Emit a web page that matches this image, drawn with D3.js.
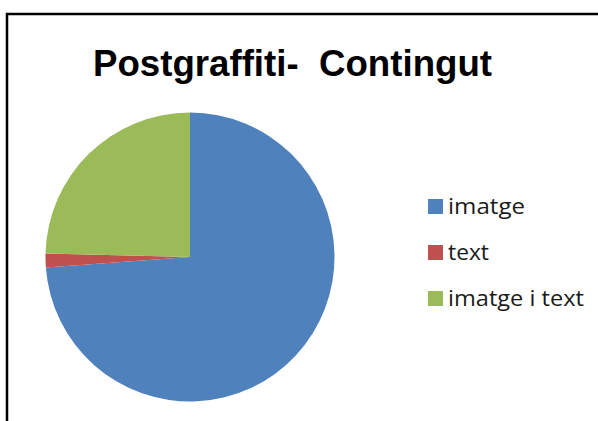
<!DOCTYPE html>
<html><head><meta charset="utf-8">
<script src="https://cdn.jsdelivr.net/npm/d3@7"></script>
<style>html,body{margin:0;padding:0;background:#fff;}svg{display:block;}text{white-space:pre;}</style>
</head><body>
<script>
const categories = ["imatge", "text", "imatge i text"];
const values = [48, 1, 16];
const colors = ["#4F81BD", "#C0504D", "#9BBB59"];
const title = "Postgraffiti-  Contingut";

const W = 598, H = 421;
const svg = d3.select("body").append("svg").attr("width", W).attr("height", H);

// frame
svg.append("path")
  .attr("d", d3.line()([[7, H + 5], [7, 14], [W + 5, 14]]))
  .attr("fill", "none").attr("stroke", "#000").attr("stroke-width", 2.5);

// title
svg.append("text")
  .attr("x", 93).attr("y", 76)
  .attr("font-family", "Liberation Sans, Arial, sans-serif")
  .attr("font-weight", "bold")
  .attr("font-size", 36)
  .attr("textLength", 399)
  .attr("lengthAdjust", "spacingAndGlyphs")
  .attr("fill", "#000")
  .text(title);

// pie
const cx = 190, cy = 257, r = 144.5;
const pie = d3.pie().sort(null).value(d => d)(values);
const arc = d3.arc().innerRadius(0).outerRadius(r);
svg.append("g").attr("transform", `translate(${cx},${cy})`)
  .selectAll("path").data(pie).join("path")
  .attr("d", arc)
  .attr("fill", (d, i) => colors[i]);

// legend
const ly = d3.scalePoint().domain(categories).range([214, 306]);
const lg = svg.append("g");
const widths = {"imatge": 77, "text": 41, "imatge i text": 136};
categories.forEach((c, i) => {
  lg.append("rect").attr("x", 428).attr("y", ly(c) - 15).attr("width", 15).attr("height", 15).attr("fill", colors[i]);
  lg.append("text").attr("x", 448).attr("y", ly(c))
    .attr("font-family", "Open Sans, sans-serif").attr("font-size", 21)
    .attr("textLength", widths[c]).attr("lengthAdjust", "spacingAndGlyphs")
    .attr("fill", "#1a1a1a").text(c);
});
</script>
</body></html>
